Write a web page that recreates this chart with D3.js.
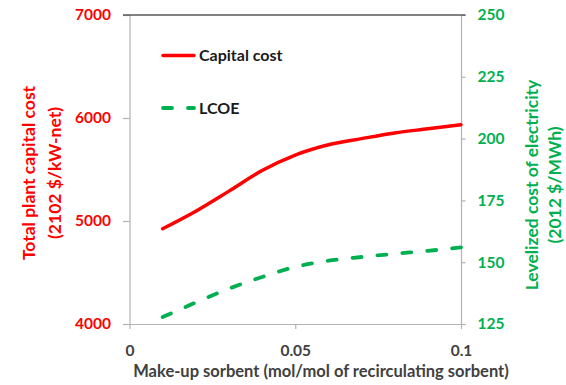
<!DOCTYPE html>
<html>
<head>
<meta charset="utf-8">
<script src="https://cdn.jsdelivr.net/npm/d3@7"></script>
<style>
  html, body { margin: 0; padding: 0; background: #fff; }
  svg { display: block; }
  text { font-family: Lato, "Open Sans", sans-serif; font-weight: bold; }
</style>
</head>
<body>
<svg id="chart" width="566" height="385"></svg>
<script>
// Make-up sorbent rate (mol/mol of recirculating sorbent)
const makeupRate = [0.01, 0.02, 0.03, 0.04, 0.05, 0.06, 0.07, 0.08, 0.09, 0.10];
// Total plant capital cost (2102 $/kW-net)
const capitalCost = [4925, 5095, 5290, 5490, 5640, 5740, 5800, 5855, 5895, 5935];
// Levelized cost of electricity (2012 $/MWh)
const lcoe = [127.8, 133.7, 139.3, 144.0, 148.1, 150.6, 152.1, 153.4, 154.6, 156.0];

const xTicks = [0, 0.05, 0.1];
const xTickLabels = ["0", "0.05", "0.1"];
const leftTicks = [4000, 5000, 6000, 7000];
const rightTicks = [125, 150, 175, 200, 225, 250];

const RED = "#ff0000";
const GREEN = "#00b050";
const AXIS = "#b3b3b3";
const DARK = "#404040";

const svg = d3.select("#chart");

const x = d3.scaleLinear().domain([0, 0.1]).range([129.5, 461]);
const yL = d3.scaleLinear().domain([4000, 7000]).range([324, 15]);
const yR = d3.scaleLinear().domain([125, 250]).range([324, 15]);

// Left axis (capital cost)
const leftAxis = svg.append("g")
  .attr("transform", `translate(${x(0)},0)`)
  .call(d3.axisLeft(yL).tickValues(leftTicks).tickSize(6.5).tickPadding(12).tickFormat(d3.format("d")));
leftAxis.select(".domain").attr("stroke", AXIS).attr("stroke-width", 1.2);
leftAxis.selectAll(".tick line").attr("stroke", AXIS).attr("stroke-width", 1.2);
leftAxis.selectAll(".tick text").attr("fill", RED).attr("font-size", 15.5)
  .attr("font-family", "Lato").attr("font-weight", "bold");

// Right axis (LCOE)
const rightAxis = svg.append("g")
  .attr("transform", `translate(${x(0.1)},0)`)
  .call(d3.axisRight(yR).tickValues(rightTicks).tickSize(4.5).tickPadding(12));
rightAxis.select(".domain").attr("stroke", AXIS).attr("stroke-width", 1.2);
rightAxis.selectAll(".tick line").attr("stroke", AXIS).attr("stroke-width", 1.2);
rightAxis.selectAll(".tick text").attr("fill", GREEN).attr("font-size", 15.5)
  .attr("font-family", "Lato").attr("font-weight", "bold");

// Bottom axis
const bottomAxis = svg.append("g")
  .attr("transform", `translate(0,${yL(4000)})`)
  .call(d3.axisBottom(x).tickValues(xTicks).tickSize(5).tickPadding(16)
    .tickFormat((d, i) => xTickLabels[i]));
bottomAxis.select(".domain").attr("stroke", AXIS).attr("stroke-width", 1.2)
  .attr("d", `M${x(0) - 6.5},0.5H${x(0.1) + 4.5}`);
bottomAxis.selectAll(".tick line").attr("stroke", AXIS).attr("stroke-width", 1.2);
bottomAxis.selectAll(".tick text").attr("fill", DARK).attr("font-size", 15.5)
  .attr("font-family", "Lato").attr("font-weight", "bold");

// Top frame line
svg.append("line")
  .attr("x1", x(0) - 6.5).attr("x2", x(0.1) + 4.5)
  .attr("y1", yL(7000)).attr("y2", yL(7000))
  .attr("stroke", "#595959").attr("stroke-width", 1.5);

// Capital cost curve
const capLine = d3.line()
  .x((d, i) => x(makeupRate[i]))
  .y(d => yL(d))
  .curve(d3.curveMonotoneX);
svg.append("path")
  .datum(capitalCost)
  .attr("d", capLine)
  .attr("fill", "none")
  .attr("stroke", RED)
  .attr("stroke-width", 3.5)
  .attr("stroke-linecap", "round");

// LCOE curve
const lcoeLine = d3.line()
  .x((d, i) => x(makeupRate[i]))
  .y(d => yR(d))
  .curve(d3.curveMonotoneX);
svg.append("path")
  .datum(lcoe)
  .attr("d", lcoeLine)
  .attr("fill", "none")
  .attr("stroke", GREEN)
  .attr("stroke-width", 3.8)
  .attr("stroke-dasharray", "9,16")
  .attr("stroke-linecap", "round");

// Legend
const legend = svg.append("g");
legend.append("line")
  .attr("x1", 163).attr("x2", 194).attr("y1", 55.5).attr("y2", 55.5)
  .attr("stroke", RED).attr("stroke-width", 3.5).attr("stroke-linecap", "round");
legend.append("text").attr("x", 199).attr("y", 61)
  .attr("font-size", 16).attr("fill", "#1a1a1a").text("Capital cost");
legend.append("line")
  .attr("x1", 163).attr("x2", 194).attr("y1", 108).attr("y2", 108)
  .attr("stroke", GREEN).attr("stroke-width", 3.8)
  .attr("stroke-dasharray", "9,16").attr("stroke-linecap", "round");
legend.append("text").attr("x", 199).attr("y", 113.5)
  .attr("font-size", 16).attr("fill", "#1a1a1a").text("LCOE");

// Axis titles
svg.append("text")
  .attr("x", 321).attr("y", 377)
  .attr("text-anchor", "middle").attr("font-size", 16.5).attr("fill", DARK)
  .text("Make-up sorbent (mol/mol of recirculating sorbent)");

const leftTitle = svg.append("text")
  .attr("transform", "translate(0,173) rotate(-90)")
  .attr("text-anchor", "middle").attr("font-size", 17.5).attr("fill", RED);
leftTitle.append("tspan").attr("x", 0).attr("y", 35).text("Total plant capital cost");
leftTitle.append("tspan").attr("x", 0).attr("y", 61).text("(2102 $/kW-net)");

const rightTitle = svg.append("text")
  .attr("transform", "translate(0,185) rotate(-90)")
  .attr("text-anchor", "middle").attr("font-size", 17.5).attr("fill", GREEN);
rightTitle.append("tspan").attr("x", 0).attr("y", 538).text("Levelized cost of electricity");
rightTitle.append("tspan").attr("x", 0).attr("y", 561).text("(2012 $/MWh)");
</script>
</body>
</html>
